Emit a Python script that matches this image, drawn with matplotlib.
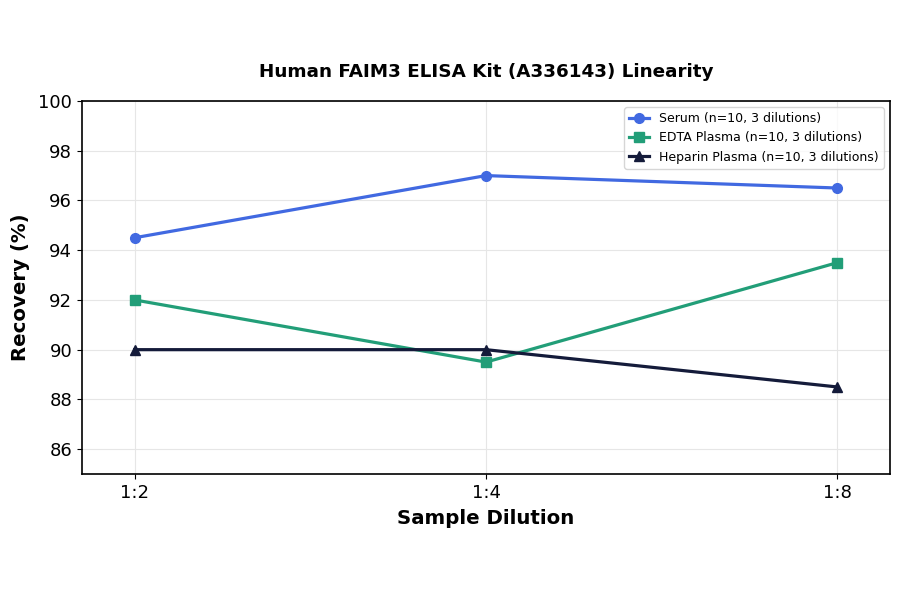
import matplotlib
matplotlib.use("Agg")
from matplotlib import pyplot as plt

dilutions = ["1:2", "1:4", "1:8"]
serum = [94.5, 97.0, 96.5]
edta = [92.0, 89.5, 93.5]
heparin = [90.0, 90.0, 88.5]
series_labels = ["Serum (n=10, 3 dilutions)",
                 "EDTA Plasma (n=10, 3 dilutions)",
                 "Heparin Plasma (n=10, 3 dilutions)"]

fig = plt.figure(figsize=(9, 5.94), dpi=100)
ax = fig.add_axes([0.091, 0.202, 0.898, 0.628])

x = list(range(len(dilutions)))
ax.plot(x, serum, color="#4169E1", marker="o", linewidth=2.3, markersize=7, label=series_labels[0])
ax.plot(x, edta, color="#229E78", marker="s", linewidth=2.3, markersize=7, label=series_labels[1])
ax.plot(x, heparin, color="#141B3A", marker="^", linewidth=2.3, markersize=7, label=series_labels[2])

ax.set_xlim(-0.15, 2.15)
ax.set_ylim(85, 100)
ax.set_yticks([86, 88, 90, 92, 94, 96, 98, 100])
ax.set_xticks(x)
ax.set_xticklabels(dilutions)
ax.tick_params(labelsize=13)
ax.grid(True, color="#e6e6e6", linewidth=0.8)
ax.set_axisbelow(True)
for s in ax.spines.values():
    s.set_linewidth(1.2)

ax.set_title("Human FAIM3 ELISA Kit (A336143) Linearity", fontsize=13.2, fontweight="bold", pad=17)
ax.set_xlabel("Sample Dilution", fontsize=14.2, fontweight="bold", labelpad=5)
ax.set_ylabel("Recovery (%)", fontsize=14.2, fontweight="bold", labelpad=6)
ax.legend(loc="upper right", fontsize=9, handlelength=1.6)

fig.savefig("out.png", dpi=100)
